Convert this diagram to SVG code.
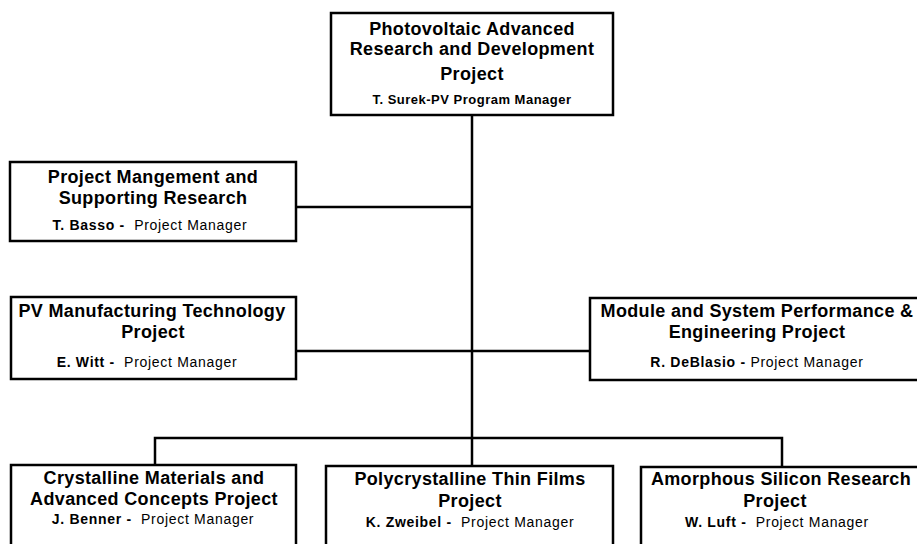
<svg xmlns="http://www.w3.org/2000/svg" width="917" height="544" viewBox="0 0 917 544">
<style>
.box{fill:#fff;stroke:#000;stroke-width:2.5}
.t{font-family:"Liberation Sans",Arial,sans-serif;font-weight:bold;font-size:18px;letter-spacing:0.35px;text-anchor:middle;fill:#000}
.s{font-family:"Liberation Sans",Arial,sans-serif;font-size:14px;letter-spacing:0.7px;text-anchor:middle;fill:#000}
.s .n{font-weight:bold}
.s0{font-family:"Liberation Sans",Arial,sans-serif;font-weight:bold;font-size:13px;letter-spacing:0.5px;text-anchor:middle;fill:#000}
.c{stroke:#000;stroke-width:2.5;fill:none}
</style>
<rect width="917" height="544" fill="#fff"/>
<g id="connectors">
<line class="c" x1="472" y1="115" x2="472" y2="438"/>
<line class="c" x1="296" y1="207" x2="472" y2="207"/>
<line class="c" x1="296" y1="351" x2="590" y2="351"/>
<polyline class="c" points="155,465 155,438 782,438 782,467"/>
<line class="c" x1="472" y1="438" x2="472" y2="467"/>
</g>
<g id="n-top">
<rect class="box" x="331" y="13" width="282" height="102"/>
<text class="t" x="472" y="35">Photovoltaic Advanced</text>
<text class="t" x="472" y="55">Research and Development</text>
<text class="t" x="472" y="80">Project</text>
<text class="s0" x="472" y="104">T. Surek-PV Program Manager</text>
</g>
<g id="n-mgmt">
<rect class="box" x="10" y="162" width="286" height="79"/>
<text class="t" x="153" y="183">Project Mangement and</text>
<text class="t" x="153" y="204">Supporting Research</text>
<text class="s" x="150" y="230"><tspan class="n">T. Basso -</tspan>&#160; Project Manager</text>
</g>
<g id="n-mfg">
<rect class="box" x="11" y="297" width="285" height="82"/>
<text class="t" x="152" y="317">PV Manufacturing Technology</text>
<text class="t" x="153" y="338">Project</text>
<text class="s" x="147" y="367"><tspan class="n">E. Witt -</tspan>&#160; Project Manager</text>
</g>
<g id="n-module">
<rect class="box" x="590" y="298" width="340" height="82"/>
<text class="t" x="757" y="317">Module and System Performance &amp;</text>
<text class="t" x="757" y="338">Engineering Project</text>
<text class="s" x="757" y="367"><tspan class="n">R. DeBlasio - </tspan>Project Manager</text>
</g>
<g id="n-cryst">
<rect class="box" x="11" y="465" width="285" height="90"/>
<text class="t" x="154" y="484">Crystalline Materials and</text>
<text class="t" x="154" y="505">Advanced Concepts Project</text>
<text class="s" x="153" y="524"><tspan class="n">J. Benner -</tspan>&#160; Project Manager</text>
</g>
<g id="n-poly">
<rect class="box" x="326" y="466" width="287" height="90"/>
<text class="t" x="470" y="485">Polycrystalline Thin Films</text>
<text class="t" x="470" y="507">Project</text>
<text class="s" x="470" y="527"><tspan class="n">K. Zweibel -</tspan>&#160; Project Manager</text>
</g>
<g id="n-amor">
<rect class="box" x="641" y="467" width="290" height="90"/>
<text class="t" x="781" y="485">Amorphous Silicon Research</text>
<text class="t" x="775" y="507">Project</text>
<text class="s" x="777" y="527"><tspan class="n">W. Luft -</tspan>&#160; Project Manager</text>
</g>
</svg>
